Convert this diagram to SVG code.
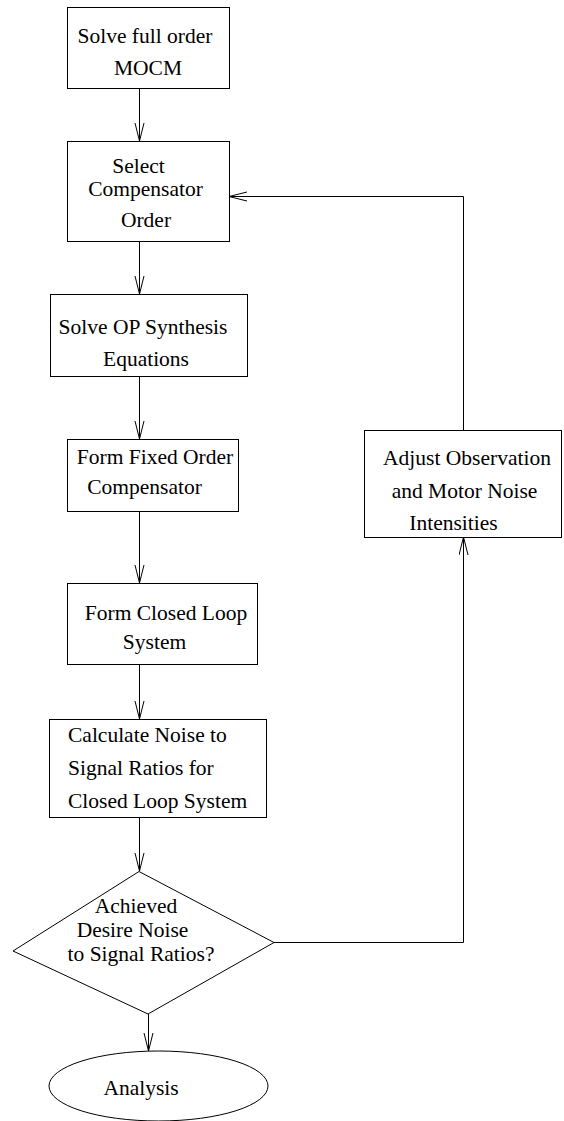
<svg xmlns="http://www.w3.org/2000/svg" width="564" height="1121" viewBox="0 0 564 1121">
  <style>
    .shape { fill: #fff; stroke: #000; stroke-width: 1; }
    .wire { fill: none; stroke: #000; stroke-width: 1; }
    text { font-family: "Liberation Serif", "Times New Roman", serif; font-size: 21.5px; fill: #000; }
    .c { text-anchor: middle; }
  </style>
  <defs>
    <marker id="vee" markerUnits="userSpaceOnUse" markerWidth="20" markerHeight="12" refX="18" refY="5" orient="auto">
      <path d="M0,0.5 L18,5 L0,9.5" fill="none" stroke="#000" stroke-width="1"/>
    </marker>
  </defs>
  <rect width="564" height="1121" fill="#fff"/>

  <g id="connectors">
    <line class="wire" x1="139.5" y1="88" x2="139.5" y2="141" marker-end="url(#vee)"/>
    <line class="wire" x1="139.5" y1="241" x2="139.5" y2="294" marker-end="url(#vee)"/>
    <line class="wire" x1="139.5" y1="376" x2="139.5" y2="439" marker-end="url(#vee)"/>
    <line class="wire" x1="139.5" y1="511" x2="139.5" y2="583" marker-end="url(#vee)"/>
    <line class="wire" x1="139.5" y1="664" x2="139.5" y2="719" marker-end="url(#vee)"/>
    <line class="wire" x1="139.5" y1="817" x2="139.5" y2="871" marker-end="url(#vee)"/>
    <line class="wire" x1="148.5" y1="1014" x2="148.5" y2="1051" marker-end="url(#vee)"/>
    <polyline class="wire" points="274,942.5 463.5,942.5 463.5,537" marker-end="url(#vee)"/>
    <polyline class="wire" points="463.5,430 463.5,196.5 229,196.5" marker-end="url(#vee)"/>
  </g>

  <g id="solve-mocm">
    <rect class="shape" x="67.5" y="7.5" width="162" height="81"/>
    <text class="c" x="145" y="43">Solve full order</text>
    <text class="c" x="148" y="75">MOCM</text>
  </g>

  <g id="select-order">
    <rect class="shape" x="67.5" y="141.5" width="162" height="100"/>
    <text class="c" x="138.5" y="173">Select</text>
    <text class="c" x="145.5" y="196">Compensator</text>
    <text class="c" x="146" y="227">Order</text>
  </g>

  <g id="synthesis">
    <rect class="shape" x="50.5" y="294.5" width="197" height="82"/>
    <text class="c" x="143" y="334">Solve OP Synthesis</text>
    <text class="c" x="146" y="366">Equations</text>
  </g>

  <g id="fixed-order">
    <rect class="shape" x="67.5" y="439.5" width="171" height="72"/>
    <text class="c" x="155" y="464">Form Fixed Order</text>
    <text class="c" x="144.5" y="494">Compensator</text>
  </g>

  <g id="closed-loop">
    <rect class="shape" x="67.5" y="583.5" width="190" height="81"/>
    <text class="c" x="166" y="620">Form Closed Loop</text>
    <text class="c" x="154.5" y="649">System</text>
  </g>

  <g id="noise-ratios">
    <rect class="shape" x="49.5" y="719.5" width="217" height="98"/>
    <text x="68" y="742">Calculate Noise to</text>
    <text x="68" y="775">Signal Ratios for</text>
    <text x="68" y="808">Closed Loop System</text>
  </g>

  <g id="adjust-noise">
    <rect class="shape" x="364.5" y="430.5" width="197" height="107"/>
    <text class="c" x="467" y="465">Adjust Observation</text>
    <text class="c" x="464.5" y="498">and Motor Noise</text>
    <text class="c" x="453.5" y="530">Intensities</text>
  </g>

  <g id="decision">
    <polygon class="shape" points="139,871.5 274,942.5 148,1014 13,951"/>
    <text class="c" x="136" y="913">Achieved</text>
    <text class="c" x="132.5" y="937">Desire Noise</text>
    <text class="c" x="141" y="961">to Signal Ratios?</text>
  </g>

  <g id="analysis">
    <ellipse class="shape" cx="158.5" cy="1086" rx="109.5" ry="35"/>
    <text class="c" x="141" y="1095">Analysis</text>
  </g>
</svg>
